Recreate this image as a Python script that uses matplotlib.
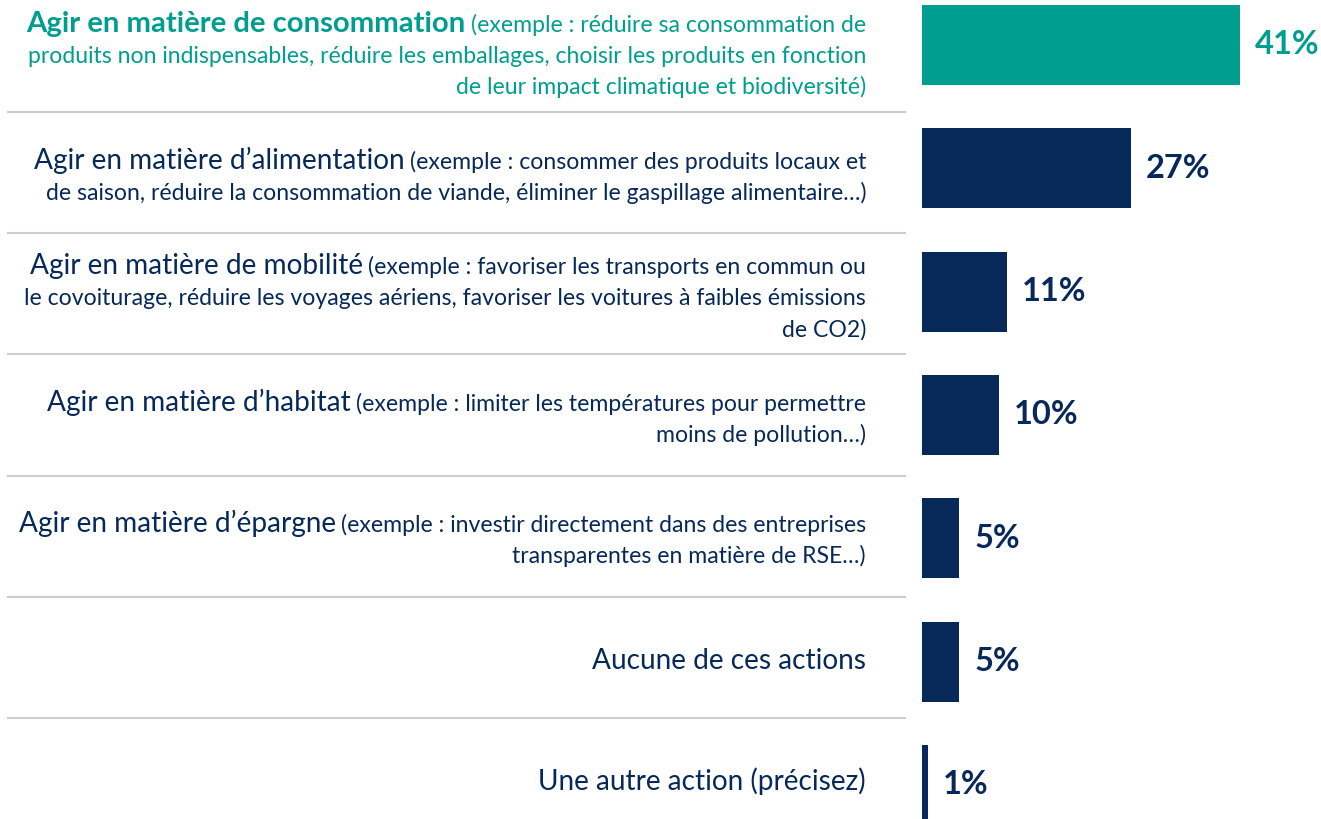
import matplotlib.pyplot as plt
from matplotlib.lines import Line2D
from matplotlib.transforms import IdentityTransform

plt.rcParams['font.family'] = ['Lato', 'DejaVu Sans']

# Data
main_labels = [
    "Agir en matière de consommation",
    "Agir en matière d’alimentation",
    "Agir en matière de mobilité",
    "Agir en matière d’habitat",
    "Agir en matière d’épargne",
    "Aucune de ces actions",
    "Une autre action (précisez)",
]
detail_labels = [
    "(exemple : réduire sa consommation de\nproduits non indispensables, réduire les emballages, choisir les produits en fonction\nde leur impact climatique et biodiversité)",
    "(exemple : consommer des produits locaux et\nde saison, réduire la consommation de viande, éliminer le gaspillage alimentaire…)",
    "(exemple : favoriser les transports en commun ou\nle covoiturage, réduire les voyages aériens, favoriser les voitures à faibles émissions\nde CO2)",
    "(exemple : limiter les températures pour permettre\nmoins de pollution…)",
    "(exemple : investir directement dans des entreprises\ntransparentes en matière de RSE…)",
    "",
    "",
]
values = [41.0, 26.9, 11.0, 9.9, 4.8, 4.8, 0.8]

teal = '#009E8F'
navy = '#06295A'
colors = [teal] + [navy] * 6

W, H = 1321, 819
fig = plt.figure(figsize=(W / 100, H / 100), dpi=100)
ax = fig.add_axes([0, 0, 1, 1])
ax.axis('off')

# axis scaled so the bars sit where they do in the reference
px_per = 318 / 41
row_px = 123.3
ax.set_xlim(-922 / px_per, (W - 922) / px_per)
ax.set_ylim((H - 45) / row_px, -45 / row_px)

ys = list(range(len(values)))
ax.barh(ys, values, height=80 / row_px, color=colors)
for y, v, c in zip(ys, values, colors):
    ax.annotate(f"{v:.0f}%", (v, y), xytext=(15, 0), textcoords='offset pixels',
                va='center', ha='left', fontsize=23.5, fontweight='bold', color=c)

# labels on the left, right aligned
fig.canvas.draw()
renderer = fig.canvas.get_renderer()
ident = IdentityTransform()
x_right = 866
line_gap = 31
cell = 121.2
for i, (m, d) in enumerate(zip(main_labels, detail_labels)):
    c = colors[i]
    bold = i == 0
    dlines = d.split('\n') if d else []
    n = max(1, len(dlines))
    yc = 54 + cell * i
    for j in range(n):
        ybase = H - (yc - (n - 1) / 2 * line_gap + j * line_gap + 9)
        x = x_right
        if j < len(dlines):
            t = fig.text(x, ybase, dlines[j], transform=ident, ha='right', va='baseline',
                         fontsize=16.6, color=c)
            x -= t.get_window_extent(renderer).width + 5
        if j == 0:
            fig.text(x, ybase, m, transform=ident, ha='right', va='baseline',
                     fontsize=21.1 if bold else 20.2,
                     fontweight='bold' if bold else 'normal', color=c)

for k in range(6):
    y = H - (112 + cell * k)
    fig.add_artist(Line2D([8, 905], [y, y], transform=ident, color='#cccccc', lw=1.5))

fig.savefig('out.png', dpi=100)
